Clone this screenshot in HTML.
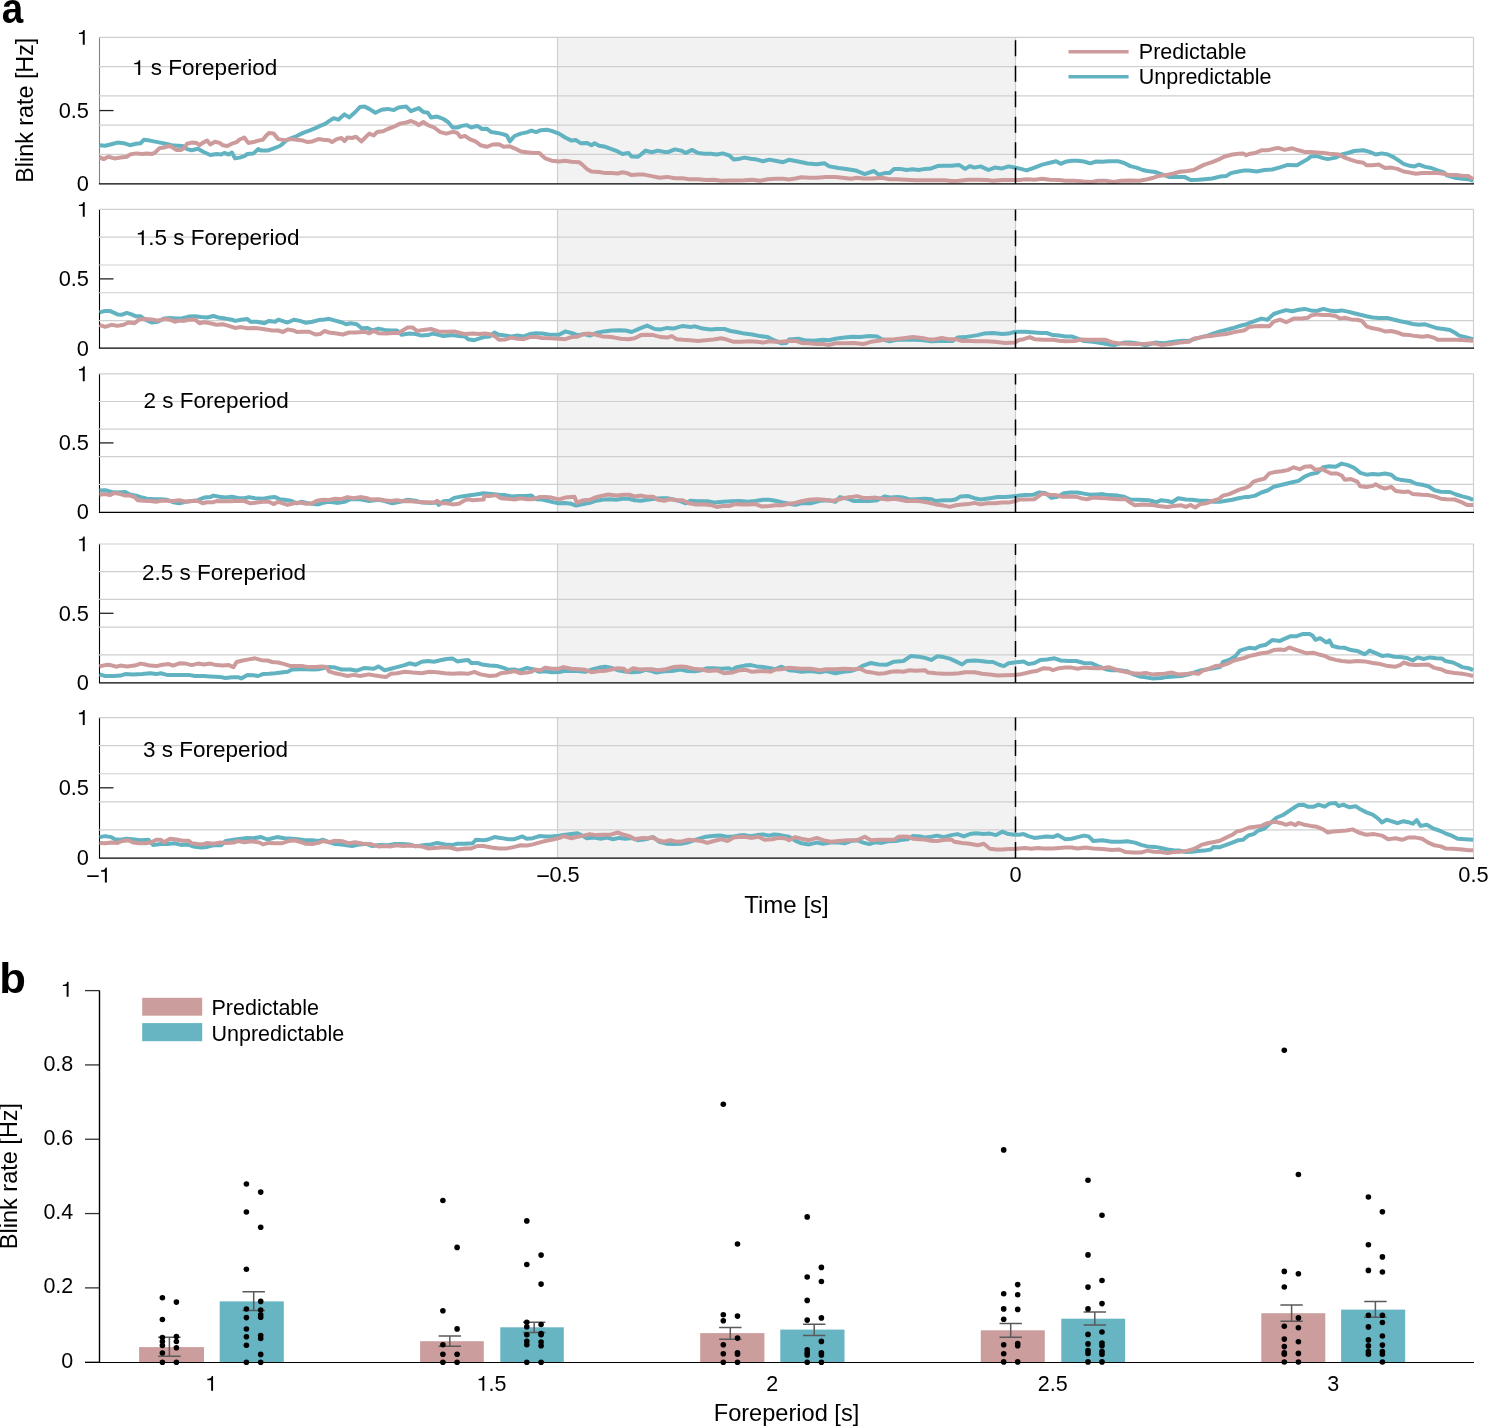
<!DOCTYPE html>
<html><head><meta charset="utf-8"><style>html,body{margin:0;padding:0;background:#fff;width:1488px;height:1426px;overflow:hidden}</style></head>
<body><svg width="1488" height="1426" viewBox="0 0 1488 1426" style="display:block;font-family:'Liberation Sans', sans-serif;will-change:transform"><rect width="1488" height="1426" fill="#fff"/><text x="1.7" y="23" font-size="42" font-weight="bold" transform="translate(2.6,0) scale(0.92,1) translate(-2.6,0)">a</text><text x="-0.7" y="992.7" font-size="42" font-weight="bold" transform="translate(2.8,0) scale(1.04,1) translate(-2.8,0)">b</text><rect x="557.5" y="37.43" width="458.0" height="146.26999999999998" fill="#f2f2f2"/><line x1="99.5" y1="37.43" x2="99.5" y2="183.7" stroke="#808080" stroke-width="1.1"/><line x1="98.5" y1="154.45" x2="1473.5" y2="154.45" stroke="#cfcfcf" stroke-width="1.2"/><line x1="98.5" y1="125.19" x2="1473.5" y2="125.19" stroke="#cfcfcf" stroke-width="1.2"/><line x1="98.5" y1="95.94" x2="1473.5" y2="95.94" stroke="#cfcfcf" stroke-width="1.2"/><line x1="98.5" y1="66.68" x2="1473.5" y2="66.68" stroke="#cfcfcf" stroke-width="1.2"/><line x1="98.5" y1="37.43" x2="1473.5" y2="37.43" stroke="#cfcfcf" stroke-width="1.2"/><line x1="557.5" y1="37.43" x2="557.5" y2="183.7" stroke="#cfcfcf" stroke-width="1.2"/><line x1="1015.5" y1="37.43" x2="1015.5" y2="183.7" stroke="#cfcfcf" stroke-width="1.2"/><line x1="1473.5" y1="37.43" x2="1473.5" y2="183.7" stroke="#cfcfcf" stroke-width="1.2"/><text x="132.10" y="74.90" font-size="22.5">  s Foreperiod</text><path d="M360 0L360 655L302 655C290 612 274 584 248 566C220 547 172 537 95 533L95 472L270 472L270 0Z" transform="translate(132.10,74.90) scale(0.02250,-0.02250)"/><polyline points="99.5,145.2 105.2,145.7 111.4,144.2 117.5,142.6 123.7,143.2 129.9,145.2 136.1,143.7 140.7,143.2 143.8,139.8 150.0,140.6 157.7,142.1 165.5,143.7 171.6,145.2 177.8,145.7 182.5,146.0 187.1,149.1 191.7,150.3 197.9,148.8 204.1,152.2 210.3,155.0 216.5,154.0 221.1,154.5 224.2,153.0 228.8,154.5 231.9,152.5 235.0,158.4 239.7,157.6 244.3,156.1 247.4,154.0 253.6,153.4 258.2,149.1 261.3,150.6 267.5,150.6 273.7,148.3 279.8,146.0 282.9,143.7 286.0,140.6 290.7,138.3 296.8,136.0 303.0,132.9 309.2,130.6 315.4,128.2 320.0,125.9 324.7,124.1 329.0,121.1 333.6,118.2 338.3,119.7 344.5,114.3 349.1,117.4 355.3,112.0 359.9,107.1 364.6,106.6 369.2,108.9 375.4,112.8 381.6,109.7 387.7,108.9 393.9,110.1 398.6,107.4 406.3,106.6 410.9,111.2 418.7,108.1 423.3,112.0 427.9,112.8 431.0,117.4 437.2,116.6 443.4,119.0 448.0,122.0 452.7,127.5 457.3,127.5 461.9,125.9 466.6,125.1 471.2,127.5 477.4,125.9 482.0,129.0 486.7,128.7 491.3,132.1 497.5,132.9 503.7,134.4 506.8,135.5 509.8,141.4 514.5,136.0 520.7,133.6 526.8,132.4 531.5,130.6 536.1,132.1 540.8,130.2 546.9,129.8 551.6,130.9 559.0,133.6 565.2,137.5 571.4,140.6 576.0,140.1 580.6,143.2 586.8,142.9 591.5,145.2 594.6,143.2 599.2,145.7 605.4,146.8 611.6,149.1 617.7,151.4 622.4,154.0 628.6,153.0 631.6,156.5 637.8,156.8 640.9,154.5 645.6,150.6 651.7,152.2 657.9,150.6 664.1,151.9 668.7,151.9 674.9,149.4 681.1,150.6 685.7,153.0 691.9,149.9 698.1,153.0 704.3,153.7 710.5,153.7 716.7,154.5 722.8,153.4 729.0,155.3 733.7,159.6 738.3,159.1 744.5,157.6 750.7,158.7 756.8,159.6 763.0,161.2 769.2,159.6 775.4,160.7 783.1,162.2 789.0,159.8 798.3,161.5 807.5,163.5 816.8,164.2 824.6,163.3 829.2,166.4 838.5,168.0 847.7,169.2 855.5,170.4 864.7,174.1 870.9,172.0 874.0,171.0 878.7,174.6 884.8,173.1 889.5,173.1 894.1,168.9 900.3,168.9 906.5,170.0 912.7,169.2 918.8,170.0 925.0,168.9 931.2,168.4 937.4,166.1 943.6,165.8 951.3,165.8 959.0,164.9 965.2,168.9 969.8,166.1 974.5,167.6 980.7,166.4 988.4,170.0 994.6,167.6 1002.3,168.4 1008.5,166.4 1013.1,167.3 1019.0,168.4 1026.7,170.4 1034.5,167.6 1042.2,164.6 1049.9,162.7 1056.1,161.2 1060.7,163.8 1065.4,161.8 1071.6,160.7 1077.7,160.7 1083.9,161.5 1090.1,163.3 1096.3,161.5 1102.5,161.8 1108.7,161.2 1117.9,161.2 1124.1,163.0 1130.3,166.1 1136.5,167.6 1142.7,170.0 1147.3,171.0 1155.0,172.0 1162.8,174.6 1168.9,176.9 1176.7,176.9 1184.4,176.9 1190.6,180.0 1198.3,179.7 1204.5,179.2 1212.2,178.5 1219.9,176.6 1226.1,176.1 1230.8,173.1 1238.5,171.5 1244.7,170.4 1249.0,170.6 1256.7,171.5 1264.5,170.0 1272.2,169.5 1279.9,167.3 1287.6,164.9 1296.9,165.3 1303.1,161.8 1307.7,159.1 1310.8,156.5 1317.0,156.1 1323.2,158.1 1327.8,159.1 1335.6,157.6 1341.7,154.5 1347.9,153.0 1354.1,151.0 1363.4,150.3 1369.6,151.9 1375.7,154.5 1381.9,153.4 1388.1,154.5 1394.3,157.6 1398.9,160.7 1403.6,163.8 1409.8,165.8 1414.4,166.4 1419.0,164.6 1425.2,166.9 1431.4,168.0 1437.6,170.4 1443.8,172.3 1446.8,175.4 1454.6,177.7 1462.3,178.8 1468.5,179.2 1473.1,180.8" fill="none" stroke="#62b3c1" stroke-width="4" stroke-linejoin="round" stroke-linecap="butt"/><polyline points="99.5,157.1 103.6,159.1 108.3,156.8 114.5,158.4 120.6,157.6 126.8,156.8 129.9,154.5 136.1,153.4 142.3,154.0 146.9,153.4 151.6,154.0 154.6,153.0 159.3,148.3 163.9,147.6 168.6,146.0 171.6,146.8 176.3,149.9 180.9,149.9 184.0,148.3 187.1,143.7 191.7,142.6 196.4,142.9 199.5,145.2 202.6,142.9 207.2,140.6 210.3,144.5 214.9,141.7 219.6,142.9 222.7,145.2 227.3,146.0 231.9,143.7 236.6,142.1 239.7,139.5 244.3,137.5 248.2,142.9 253.6,142.1 258.2,140.6 262.8,139.8 265.9,136.0 269.0,132.9 273.7,133.6 278.3,139.1 284.5,140.1 290.7,139.1 296.8,139.8 303.0,140.6 307.7,142.1 312.3,141.4 318.5,139.1 323.1,139.8 329.0,140.2 332.1,142.1 336.7,139.1 341.4,138.0 344.5,141.1 347.5,137.5 352.2,138.0 356.0,136.7 361.5,141.4 366.1,136.7 369.2,133.6 373.8,135.5 376.9,132.1 383.1,131.3 387.7,129.0 393.9,126.7 400.1,123.6 406.3,122.5 410.9,121.0 415.6,122.8 418.7,125.1 423.3,122.0 427.9,125.1 434.1,127.5 440.3,132.1 446.5,133.6 452.7,131.8 457.3,132.9 460.4,137.0 465.0,136.0 469.7,139.1 475.8,141.7 480.5,145.2 486.7,146.8 492.8,144.5 499.0,144.2 503.7,146.8 509.8,146.3 514.5,148.3 520.7,151.4 526.8,152.2 533.0,153.0 539.2,153.0 545.4,158.4 551.6,160.7 559.0,161.6 565.2,160.7 571.4,161.8 579.1,162.2 582.2,164.6 586.8,168.9 591.5,171.5 599.2,172.0 605.4,173.1 611.6,173.1 617.7,173.5 622.4,172.3 627.0,173.1 631.6,175.1 637.8,174.6 644.0,174.6 651.7,176.1 659.5,177.7 667.2,176.9 674.9,178.2 682.7,178.2 688.8,179.2 698.1,179.2 705.8,180.0 713.6,179.7 721.3,180.8 729.0,180.5 736.8,180.5 744.5,180.3 752.2,179.7 759.9,180.8 767.7,179.2 775.4,178.8 783.1,178.8 789.0,179.5 795.2,178.5 801.4,177.2 809.1,177.7 816.8,177.7 826.1,176.9 835.4,176.9 844.6,178.0 850.8,178.8 857.0,177.7 863.2,178.5 872.5,178.5 881.7,177.7 889.5,179.2 897.2,179.2 906.5,179.7 915.7,180.3 928.1,180.3 937.4,180.3 945.1,180.3 951.3,181.1 959.0,180.8 968.3,179.7 977.6,179.7 986.8,180.0 993.0,180.8 1002.3,180.0 1011.6,180.0 1019.0,179.9 1026.7,179.2 1034.5,179.7 1042.2,178.8 1049.9,179.7 1059.2,180.0 1065.4,180.8 1074.6,180.8 1083.9,181.6 1091.6,181.9 1097.8,180.8 1105.6,180.8 1113.3,181.9 1121.0,180.8 1130.3,180.5 1139.6,180.8 1147.3,179.2 1153.5,177.7 1158.1,176.1 1165.8,175.1 1173.6,173.5 1179.8,171.8 1187.5,171.0 1193.7,170.0 1199.8,166.9 1204.5,164.6 1212.2,162.2 1218.4,159.6 1224.6,156.5 1232.3,154.5 1238.5,153.7 1243.1,153.4 1246.2,155.3 1249.0,154.0 1255.2,153.0 1261.4,150.3 1267.5,150.3 1273.7,148.8 1278.4,147.9 1284.6,149.9 1292.3,148.3 1298.5,150.3 1304.6,151.9 1310.8,151.9 1317.0,152.5 1323.2,153.0 1329.4,153.7 1338.7,154.5 1344.8,157.6 1351.0,159.9 1357.2,161.8 1363.4,162.7 1366.5,165.3 1372.7,165.3 1378.8,164.6 1385.0,168.0 1391.2,167.6 1397.4,168.9 1403.6,171.5 1408.2,172.3 1415.9,173.8 1422.1,173.1 1428.3,173.1 1437.6,173.1 1443.8,173.8 1449.9,175.1 1456.1,175.1 1462.3,175.7 1468.5,176.1 1473.1,179.2" fill="none" stroke="#cd9b9b" stroke-width="4" stroke-linejoin="round" stroke-linecap="butt"/><line x1="1015.5" y1="183.7" x2="1015.5" y2="37.43" stroke="#000" stroke-width="1.5" stroke-dasharray="16 9.5"/><line x1="98.9" y1="183.88" x2="1474.0" y2="183.88" stroke="#000" stroke-width="1.3"/><line x1="99.5" y1="110.56" x2="113.5" y2="110.56" stroke="#222" stroke-width="1.3"/><path d="M360 0L360 655L302 655C290 612 274 584 248 566C220 547 172 537 95 533L95 472L270 472L270 0Z" transform="translate(76.88,44.73) scale(0.02180,-0.02267)"/><text x="58.70" y="117.86" font-size="21.8" transform="translate(0,117.86) scale(1,1.04) translate(0,-117.86)">0.5</text><text x="76.88" y="191.00" font-size="21.8" transform="translate(0,191.00) scale(1,1.04) translate(0,-191.00)">0</text><rect x="557.5" y="209.45" width="458.0" height="138.85000000000002" fill="#f2f2f2"/><line x1="99.5" y1="209.45" x2="99.5" y2="348.3" stroke="#000" stroke-width="1.1"/><line x1="98.5" y1="320.53" x2="1473.5" y2="320.53" stroke="#cfcfcf" stroke-width="1.2"/><line x1="98.5" y1="292.76" x2="1473.5" y2="292.76" stroke="#cfcfcf" stroke-width="1.2"/><line x1="98.5" y1="264.99" x2="1473.5" y2="264.99" stroke="#cfcfcf" stroke-width="1.2"/><line x1="98.5" y1="237.22" x2="1473.5" y2="237.22" stroke="#cfcfcf" stroke-width="1.2"/><line x1="98.5" y1="209.45" x2="1473.5" y2="209.45" stroke="#cfcfcf" stroke-width="1.2"/><line x1="557.5" y1="209.45" x2="557.5" y2="348.3" stroke="#cfcfcf" stroke-width="1.2"/><line x1="1015.5" y1="209.45" x2="1015.5" y2="348.3" stroke="#cfcfcf" stroke-width="1.2"/><line x1="1473.5" y1="209.45" x2="1473.5" y2="348.3" stroke="#cfcfcf" stroke-width="1.2"/><text x="135.70" y="245.10" font-size="22.5"> .5 s Foreperiod</text><path d="M360 0L360 655L302 655C290 612 274 584 248 566C220 547 172 537 95 533L95 472L270 472L270 0Z" transform="translate(135.70,245.10) scale(0.02250,-0.02250)"/><polyline points="99.5,312.4 105.2,310.9 109.8,310.9 117.5,314.4 122.2,314.7 126.8,312.9 131.5,314.4 136.1,316.3 140.7,316.3 145.4,319.7 151.6,322.5 157.7,321.7 163.9,318.6 170.1,318.1 176.3,318.6 182.5,318.3 188.7,316.6 194.8,316.3 201.0,317.0 207.2,317.5 213.4,316.0 219.6,317.8 225.7,318.6 231.9,319.7 235.0,320.9 241.2,319.7 247.4,319.1 250.5,321.7 256.7,321.7 264.4,323.2 269.0,320.9 275.2,321.7 278.3,319.7 284.5,321.7 287.6,322.5 293.8,319.7 299.9,320.9 306.1,322.9 312.3,321.7 318.5,320.1 324.7,319.4 329.0,318.8 335.2,320.6 341.4,322.2 346.0,324.3 350.6,323.2 356.8,324.3 361.5,328.3 367.6,327.9 372.3,330.5 378.5,328.6 384.6,329.9 390.8,330.5 397.0,330.5 401.6,334.8 409.4,333.6 415.6,334.1 421.7,335.6 427.9,335.1 432.6,333.6 438.7,334.8 443.4,336.1 452.7,335.1 458.8,336.1 465.0,336.4 468.1,339.2 474.3,340.2 478.9,338.7 483.6,337.1 489.8,336.4 494.4,332.5 499.0,334.8 505.2,335.6 511.4,336.4 517.6,335.6 523.8,336.4 529.9,334.1 536.1,333.3 542.3,333.6 548.5,334.5 559.0,334.8 565.2,331.4 571.4,333.0 577.5,335.1 583.7,334.1 589.9,335.6 596.1,333.0 603.8,331.4 611.6,330.5 619.3,330.2 625.5,330.5 631.6,332.0 639.4,328.6 647.1,325.6 654.8,329.0 661.0,329.4 667.2,327.9 673.4,328.6 682.7,325.9 690.4,327.1 695.0,326.3 702.8,328.6 710.5,329.4 716.7,329.0 724.4,329.0 730.6,331.0 736.8,332.0 744.5,333.6 752.2,334.5 759.9,336.1 767.7,337.1 773.9,340.2 781.6,343.3 786.2,342.9 789.0,339.5 798.3,338.7 804.5,340.2 813.7,340.7 823.0,339.8 829.2,340.2 835.4,338.7 844.6,337.6 852.4,336.7 860.1,337.1 869.4,336.1 877.1,336.4 881.7,339.2 889.5,341.3 897.2,339.8 906.5,339.8 915.7,339.8 923.5,340.2 931.2,341.3 938.9,341.0 946.7,341.0 952.8,341.0 957.5,337.6 965.2,337.1 971.4,336.1 977.6,335.1 983.8,333.6 993.0,333.0 1002.3,334.1 1008.5,333.6 1014.7,332.0 1019.0,331.7 1025.2,331.7 1034.5,332.5 1040.6,333.0 1046.8,333.0 1053.0,335.1 1059.2,335.6 1065.4,336.4 1071.6,336.4 1077.7,338.7 1083.9,341.0 1093.2,341.8 1102.5,343.3 1108.7,344.4 1114.8,344.9 1124.1,342.6 1130.3,342.6 1139.6,343.8 1145.7,345.3 1155.0,342.6 1164.3,343.3 1173.6,341.8 1182.8,340.7 1189.0,341.0 1195.2,338.7 1201.4,337.1 1207.6,335.6 1213.8,333.3 1219.9,331.4 1226.1,329.9 1232.3,328.3 1238.5,326.3 1244.7,324.8 1249.0,323.2 1255.2,320.9 1261.4,318.6 1267.5,319.7 1273.7,314.0 1279.9,311.9 1286.1,310.1 1292.3,311.3 1298.5,309.8 1304.6,308.9 1310.8,310.4 1317.0,310.9 1323.2,308.9 1329.4,310.4 1335.6,311.3 1341.7,310.4 1347.9,311.6 1354.1,313.2 1360.3,314.7 1366.5,316.3 1372.7,317.5 1378.8,318.1 1388.1,318.1 1394.3,319.7 1400.5,321.2 1406.7,322.5 1412.8,324.0 1419.0,324.8 1425.2,324.3 1431.4,326.3 1437.6,328.3 1443.8,329.0 1449.9,329.9 1454.6,332.5 1459.2,335.6 1465.4,337.1 1473.1,339.2" fill="none" stroke="#62b3c1" stroke-width="4" stroke-linejoin="round" stroke-linecap="butt"/><polyline points="99.5,324.8 105.2,326.8 111.4,324.8 117.5,325.9 123.7,324.8 128.4,322.5 134.6,323.2 139.2,319.4 145.4,319.1 151.6,319.4 157.7,320.6 163.9,319.1 170.1,319.7 174.7,321.7 179.4,320.6 184.0,320.9 188.7,319.7 194.8,319.4 199.5,323.2 204.1,322.2 210.3,323.2 216.5,324.8 222.7,324.3 228.8,325.9 235.0,327.9 241.2,327.1 247.4,328.3 253.6,327.9 259.8,328.6 265.9,329.4 272.1,330.5 278.3,330.5 282.9,332.0 287.6,329.4 293.8,330.5 296.8,332.0 303.0,331.7 309.2,331.7 315.4,334.5 320.0,334.1 324.7,331.0 329.0,332.5 335.2,333.3 342.9,334.5 349.1,332.5 356.8,332.5 364.6,331.7 369.2,333.3 373.8,331.0 378.5,333.3 386.2,333.6 392.4,333.0 398.6,333.0 403.2,330.2 407.8,327.4 412.5,327.4 417.1,331.0 423.3,329.9 431.0,329.0 438.7,331.4 446.5,331.7 454.2,331.4 460.4,333.0 465.0,334.1 472.8,333.6 478.9,334.1 485.1,333.6 491.3,334.5 495.9,337.1 499.0,339.8 505.2,339.5 511.4,337.6 517.6,338.7 523.8,339.2 529.9,337.1 536.1,337.1 542.3,337.9 550.0,338.2 559.0,338.7 565.2,339.2 571.4,337.1 577.5,336.7 583.7,334.1 589.9,333.6 596.1,334.8 602.3,336.4 608.5,336.7 614.6,337.6 620.8,338.7 628.6,339.2 634.7,338.2 640.9,335.1 647.1,334.8 653.3,335.1 661.0,337.1 667.2,337.6 671.8,336.1 676.5,339.2 682.7,339.8 690.4,340.2 698.1,341.0 705.8,340.2 713.6,339.5 721.3,338.2 727.5,339.8 733.7,341.8 741.4,341.8 749.1,341.3 756.8,341.8 763.0,342.6 769.2,341.3 775.4,341.8 781.6,341.8 789.0,341.0 795.2,340.7 801.4,342.9 809.1,343.3 816.8,344.1 823.0,344.1 829.2,344.9 835.4,343.3 844.6,343.3 853.9,342.9 863.2,344.1 870.9,341.8 878.7,340.7 884.8,339.5 894.1,339.2 903.4,338.2 912.7,337.1 921.9,337.9 928.1,339.2 934.3,339.5 942.0,337.9 948.2,339.2 955.9,339.2 962.1,341.0 969.8,341.0 977.6,341.3 986.8,341.3 994.6,341.8 1005.4,342.9 1014.7,342.6 1019.0,340.0 1023.6,339.2 1029.8,337.1 1034.5,339.2 1043.7,339.8 1053.0,339.8 1059.2,340.7 1065.4,341.3 1074.6,341.0 1080.8,339.5 1088.6,339.8 1096.3,339.8 1105.6,339.8 1111.7,342.2 1117.9,343.3 1127.2,343.8 1136.5,344.1 1145.7,343.8 1153.5,343.3 1161.2,344.9 1170.5,344.1 1179.8,342.6 1189.0,341.8 1193.7,338.7 1199.8,337.6 1204.5,336.4 1210.7,336.1 1216.8,335.1 1226.1,334.1 1232.3,332.5 1238.5,331.4 1244.7,330.2 1249.0,327.1 1255.2,326.3 1261.4,325.9 1269.1,326.3 1273.7,321.7 1279.9,319.7 1286.1,322.2 1293.8,318.6 1301.6,318.6 1307.7,317.8 1310.8,315.5 1317.0,314.4 1323.2,315.0 1329.4,315.0 1335.6,316.0 1340.2,318.6 1344.8,317.8 1351.0,319.4 1357.2,319.7 1361.8,320.9 1366.5,326.3 1372.7,328.3 1378.8,329.4 1385.0,331.4 1391.2,331.0 1397.4,332.5 1403.6,334.8 1409.8,335.1 1415.9,336.1 1422.1,336.7 1428.3,336.1 1434.5,337.9 1437.6,339.8 1446.8,339.8 1456.1,339.8 1465.4,340.2 1473.1,340.7" fill="none" stroke="#cd9b9b" stroke-width="4" stroke-linejoin="round" stroke-linecap="butt"/><line x1="1015.5" y1="348.3" x2="1015.5" y2="209.45" stroke="#000" stroke-width="1.5" stroke-dasharray="16 9.5"/><line x1="98.9" y1="348.1" x2="1474.0" y2="348.1" stroke="#000" stroke-width="1.3"/><line x1="99.5" y1="278.88" x2="113.5" y2="278.88" stroke="#222" stroke-width="1.3"/><path d="M360 0L360 655L302 655C290 612 274 584 248 566C220 547 172 537 95 533L95 472L270 472L270 0Z" transform="translate(76.88,216.75) scale(0.02180,-0.02267)"/><text x="58.70" y="286.18" font-size="21.8" transform="translate(0,286.18) scale(1,1.04) translate(0,-286.18)">0.5</text><text x="76.88" y="355.60" font-size="21.8" transform="translate(0,355.60) scale(1,1.04) translate(0,-355.60)">0</text><rect x="557.5" y="373.9" width="458.0" height="138.0" fill="#f2f2f2"/><line x1="99.5" y1="373.9" x2="99.5" y2="511.9" stroke="#000" stroke-width="1.1"/><line x1="98.5" y1="484.30" x2="1473.5" y2="484.30" stroke="#cfcfcf" stroke-width="1.2"/><line x1="98.5" y1="456.70" x2="1473.5" y2="456.70" stroke="#cfcfcf" stroke-width="1.2"/><line x1="98.5" y1="429.10" x2="1473.5" y2="429.10" stroke="#cfcfcf" stroke-width="1.2"/><line x1="98.5" y1="401.50" x2="1473.5" y2="401.50" stroke="#cfcfcf" stroke-width="1.2"/><line x1="98.5" y1="373.90" x2="1473.5" y2="373.90" stroke="#cfcfcf" stroke-width="1.2"/><line x1="557.5" y1="373.9" x2="557.5" y2="511.9" stroke="#cfcfcf" stroke-width="1.2"/><line x1="1015.5" y1="373.9" x2="1015.5" y2="511.9" stroke="#cfcfcf" stroke-width="1.2"/><line x1="1473.5" y1="373.9" x2="1473.5" y2="511.9" stroke="#cfcfcf" stroke-width="1.2"/><text x="143.60" y="408.00" font-size="22.5">2 s Foreperiod</text><polyline points="99.5,490.5 105.2,490.2 111.4,492.0 117.5,492.5 125.3,492.0 129.9,494.5 136.1,495.6 140.7,497.1 146.9,498.7 154.6,499.2 160.8,499.2 167.0,499.8 173.2,502.2 179.4,503.3 185.6,501.8 191.7,501.0 197.9,500.2 204.1,497.6 210.3,497.1 213.4,495.6 219.6,496.7 225.7,497.6 231.9,496.7 238.1,497.9 244.3,498.2 248.9,497.1 255.1,498.2 262.8,498.7 269.0,497.6 275.2,497.1 279.8,499.2 284.5,499.8 290.7,500.7 296.8,503.3 301.5,501.8 307.7,503.3 313.9,504.1 318.5,504.4 323.1,502.9 329.0,501.8 338.3,502.9 344.5,501.8 350.6,499.2 359.9,499.2 369.2,501.0 378.5,499.8 384.6,501.0 392.4,503.3 400.1,501.8 407.8,499.8 415.6,500.7 421.7,502.6 431.0,502.9 437.2,502.6 438.7,504.9 443.4,501.3 449.6,500.7 454.2,497.9 461.9,496.4 468.1,495.6 475.8,494.5 483.6,493.3 491.3,494.1 499.0,494.8 505.2,495.1 511.4,496.4 519.1,496.1 525.3,496.1 531.5,495.6 536.1,499.2 542.3,499.5 548.5,501.0 554.7,502.6 559.0,503.3 565.2,502.9 571.4,503.8 576.0,505.6 582.2,504.4 589.9,502.9 596.1,500.7 603.8,499.5 610.0,499.2 616.2,499.8 622.4,498.7 628.6,498.7 634.7,500.2 640.9,500.7 647.1,499.8 654.8,498.7 661.0,498.2 667.2,498.2 673.4,499.5 679.6,501.0 685.7,503.3 690.4,500.7 698.1,501.3 707.4,501.3 715.1,502.6 722.8,501.8 732.1,501.3 739.8,501.0 747.6,501.8 755.3,501.0 763.0,499.8 769.2,499.8 775.4,500.7 781.6,502.2 789.0,503.7 795.2,504.9 801.4,503.3 810.6,503.3 819.9,500.7 829.2,500.2 835.4,501.8 840.0,497.1 847.7,498.7 853.9,501.0 860.1,501.0 869.4,501.0 877.1,500.2 884.8,496.4 891.0,497.6 897.2,497.1 903.4,497.6 909.6,499.5 915.7,499.2 925.0,498.7 931.2,499.2 935.8,501.0 943.6,500.2 951.3,500.2 955.9,499.2 960.6,496.4 968.3,496.1 974.5,498.2 980.7,499.5 989.9,498.2 997.7,497.1 1005.4,497.1 1011.6,496.4 1019.0,495.6 1025.2,495.1 1032.9,494.8 1039.1,492.5 1045.3,493.0 1051.5,497.9 1057.6,496.7 1063.8,493.3 1070.0,492.5 1077.7,492.5 1083.9,493.6 1090.1,494.8 1096.3,494.5 1102.5,494.1 1108.7,495.1 1117.9,495.6 1124.1,496.7 1130.3,499.5 1139.6,499.8 1148.8,500.2 1156.6,502.2 1161.2,500.2 1167.4,501.0 1172.0,502.2 1178.2,498.2 1185.9,499.5 1192.1,499.8 1199.8,500.7 1207.6,500.7 1213.8,501.8 1219.9,501.8 1226.1,500.7 1232.3,499.8 1238.5,498.2 1244.7,497.1 1249.0,496.9 1255.2,495.6 1261.4,492.5 1267.5,490.5 1273.7,486.8 1279.9,485.2 1286.1,483.7 1292.3,482.2 1298.5,480.9 1304.6,476.6 1310.8,474.0 1317.0,472.9 1323.2,467.3 1329.4,466.2 1335.6,466.7 1341.7,463.6 1347.9,465.1 1354.1,467.8 1360.3,472.9 1366.5,474.7 1372.7,474.0 1378.8,474.4 1385.0,473.5 1391.2,474.7 1395.8,478.6 1402.0,480.1 1409.8,480.9 1415.9,483.7 1422.1,484.8 1428.3,486.3 1434.5,490.2 1440.7,491.7 1449.9,492.0 1456.1,494.5 1462.3,496.4 1468.5,497.9 1473.1,499.8" fill="none" stroke="#62b3c1" stroke-width="4" stroke-linejoin="round" stroke-linecap="butt"/><polyline points="99.5,494.8 105.2,494.1 109.8,495.1 114.5,493.0 120.6,494.1 125.3,495.6 129.9,495.6 134.6,497.1 137.6,500.2 143.8,500.7 150.0,501.0 156.2,501.8 160.8,500.7 167.0,500.7 173.2,501.0 179.4,500.2 185.6,501.8 191.7,501.0 197.9,501.0 202.6,503.3 207.2,502.2 213.4,502.2 216.5,501.0 222.7,501.3 230.4,501.3 238.1,500.7 244.3,501.0 250.5,503.3 256.7,502.6 262.8,501.8 269.0,501.8 273.7,504.1 278.3,501.8 284.5,503.8 287.6,504.9 293.8,503.3 299.9,502.6 306.1,503.8 312.3,503.3 316.9,500.7 323.1,499.8 329.0,500.0 335.2,498.7 341.4,499.2 347.5,497.1 353.7,498.2 359.9,497.1 366.1,497.9 370.7,499.5 378.5,499.2 384.6,500.2 390.8,501.0 397.0,500.2 403.2,501.3 409.4,501.0 415.6,501.8 424.8,502.2 434.1,502.6 437.2,500.7 440.3,503.3 446.5,503.3 452.7,504.4 458.8,503.8 463.5,501.0 468.1,499.2 472.8,500.2 478.9,499.8 483.6,499.5 484.3,496.1 489.8,496.1 495.9,495.1 500.6,498.2 506.8,498.7 514.5,499.5 520.7,498.2 526.8,499.2 533.0,499.2 539.2,497.1 545.4,497.1 551.6,497.6 559.0,499.5 565.2,497.6 574.5,496.7 576.8,502.6 583.7,500.2 589.9,499.8 596.1,497.1 602.3,495.6 608.5,494.5 616.2,495.6 623.9,494.8 630.1,494.8 634.7,496.4 640.9,495.6 647.1,496.7 653.3,496.7 657.9,499.8 664.1,500.7 670.3,499.2 676.5,500.2 682.7,500.2 688.8,503.3 695.0,504.4 704.3,504.4 710.5,504.9 716.7,506.9 722.8,506.0 729.0,506.0 735.2,504.1 741.4,504.4 749.1,504.4 755.3,504.1 761.5,506.4 769.2,506.0 775.4,505.3 781.6,505.3 789.0,503.8 795.2,502.9 801.4,501.3 809.1,499.8 816.8,499.2 824.6,499.8 832.3,501.0 838.5,499.5 844.6,497.9 850.8,497.1 857.0,496.1 863.2,497.9 869.4,497.9 875.6,497.6 881.7,498.7 887.9,499.5 894.1,498.7 900.3,499.8 906.5,501.0 912.7,500.7 920.4,501.3 928.1,502.6 935.8,504.4 943.6,505.6 949.8,506.9 955.9,505.3 962.1,504.4 968.3,504.1 974.5,502.9 980.7,504.4 986.8,503.3 994.6,503.3 1002.3,502.6 1008.5,502.6 1014.7,501.3 1019.0,499.6 1025.2,499.5 1034.5,499.2 1042.2,493.6 1049.9,494.8 1056.1,495.1 1062.3,496.7 1070.0,496.4 1076.2,496.7 1080.8,498.2 1087.0,499.2 1093.2,497.6 1099.4,497.9 1105.6,498.2 1111.7,498.7 1117.9,499.2 1125.7,499.2 1130.3,502.6 1134.9,505.3 1142.7,504.4 1151.9,504.9 1158.1,506.0 1167.4,506.9 1173.6,506.0 1181.3,505.3 1185.9,506.9 1190.6,504.9 1195.2,507.5 1199.8,504.4 1206.0,503.3 1212.2,501.0 1218.4,499.2 1223.0,495.6 1229.2,494.1 1235.4,491.4 1240.0,489.4 1244.7,488.3 1249.0,486.3 1253.6,481.7 1259.8,479.7 1264.5,478.6 1269.1,473.5 1275.3,471.9 1281.5,471.3 1287.6,470.1 1293.8,467.3 1300.0,469.3 1304.6,466.7 1310.8,466.2 1315.5,469.8 1321.6,468.9 1326.3,471.3 1330.9,473.5 1337.1,473.5 1341.7,475.5 1344.8,479.7 1351.0,479.1 1357.2,481.7 1360.3,486.3 1366.5,487.1 1372.7,485.9 1375.7,484.3 1380.4,487.1 1385.0,488.6 1391.2,486.8 1395.8,491.0 1403.6,492.0 1408.2,491.4 1412.8,494.1 1422.1,494.8 1428.3,495.1 1434.5,496.4 1440.7,498.7 1446.8,499.2 1454.6,499.5 1460.8,501.8 1466.9,504.9 1473.1,504.9" fill="none" stroke="#cd9b9b" stroke-width="4" stroke-linejoin="round" stroke-linecap="butt"/><line x1="1015.5" y1="511.9" x2="1015.5" y2="373.9" stroke="#000" stroke-width="1.5" stroke-dasharray="16 9.5"/><line x1="98.9" y1="512.3" x2="1474.0" y2="512.3" stroke="#000" stroke-width="1.3"/><line x1="99.5" y1="442.90" x2="113.5" y2="442.90" stroke="#222" stroke-width="1.3"/><path d="M360 0L360 655L302 655C290 612 274 584 248 566C220 547 172 537 95 533L95 472L270 472L270 0Z" transform="translate(76.88,381.20) scale(0.02180,-0.02267)"/><text x="58.70" y="450.20" font-size="21.8" transform="translate(0,450.20) scale(1,1.04) translate(0,-450.20)">0.5</text><text x="76.88" y="519.20" font-size="21.8" transform="translate(0,519.20) scale(1,1.04) translate(0,-519.20)">0</text><rect x="557.5" y="544.0" width="458.0" height="138.60000000000002" fill="#f2f2f2"/><line x1="99.5" y1="544.0" x2="99.5" y2="682.6" stroke="#000" stroke-width="1.1"/><line x1="98.5" y1="654.88" x2="1473.5" y2="654.88" stroke="#cfcfcf" stroke-width="1.2"/><line x1="98.5" y1="627.16" x2="1473.5" y2="627.16" stroke="#cfcfcf" stroke-width="1.2"/><line x1="98.5" y1="599.44" x2="1473.5" y2="599.44" stroke="#cfcfcf" stroke-width="1.2"/><line x1="98.5" y1="571.72" x2="1473.5" y2="571.72" stroke="#cfcfcf" stroke-width="1.2"/><line x1="98.5" y1="544.00" x2="1473.5" y2="544.00" stroke="#cfcfcf" stroke-width="1.2"/><line x1="557.5" y1="544.0" x2="557.5" y2="682.6" stroke="#cfcfcf" stroke-width="1.2"/><line x1="1015.5" y1="544.0" x2="1015.5" y2="682.6" stroke="#cfcfcf" stroke-width="1.2"/><line x1="1473.5" y1="544.0" x2="1473.5" y2="682.6" stroke="#cfcfcf" stroke-width="1.2"/><text x="142.10" y="579.70" font-size="22.5">2.5 s Foreperiod</text><polyline points="99.5,674.4 105.2,676.0 114.5,676.0 120.6,675.6 125.3,674.1 133.0,674.4 142.3,674.1 150.0,673.3 156.2,674.1 160.8,673.3 167.0,674.9 176.3,674.9 188.7,674.9 194.8,676.0 204.1,676.0 210.3,676.4 219.6,676.9 225.7,678.0 231.9,677.2 238.1,677.2 241.2,678.4 247.4,674.9 253.6,675.3 258.2,676.0 262.8,674.1 269.0,673.8 275.2,673.3 281.4,672.6 287.6,671.8 292.2,669.5 299.9,669.2 306.1,669.2 312.3,669.5 318.5,669.2 324.7,667.9 329.0,667.1 335.2,667.6 341.4,669.5 350.6,669.5 356.8,670.7 364.6,667.9 373.8,668.7 378.5,666.4 384.6,670.2 390.8,668.7 397.0,667.1 404.7,665.1 409.4,663.3 415.6,664.8 421.7,661.7 427.9,661.0 434.1,661.7 440.3,660.2 446.5,659.0 452.7,658.6 457.3,661.4 463.5,660.5 468.1,659.9 471.2,663.0 477.4,663.0 483.6,664.8 489.8,665.6 497.5,666.1 503.7,667.9 508.3,669.8 514.5,669.5 519.1,670.7 526.8,667.9 533.0,669.2 539.2,671.8 545.4,671.3 551.6,672.2 559.0,672.0 565.2,670.7 571.4,671.0 577.5,671.0 585.3,671.8 593.0,669.2 599.2,667.6 605.4,666.7 611.6,667.9 617.7,670.2 623.9,671.3 631.6,672.2 639.4,671.8 645.6,669.8 651.7,671.0 656.4,672.6 664.1,671.3 671.8,671.0 681.1,669.5 687.3,671.0 695.0,671.3 701.2,670.2 707.4,668.2 713.6,668.2 721.3,668.7 729.0,668.2 732.1,669.8 736.8,667.1 744.5,665.6 750.7,665.1 756.8,666.4 763.0,667.1 769.2,667.9 775.4,669.2 781.6,666.7 789.0,670.2 795.2,670.7 801.4,671.8 810.6,671.0 819.9,672.2 826.1,671.0 835.4,673.3 843.1,671.8 850.8,671.0 857.0,669.2 863.2,665.6 870.9,663.0 878.7,664.5 886.4,664.8 894.1,661.7 903.4,661.0 911.1,655.9 918.8,656.8 925.0,657.9 931.2,659.9 937.4,656.3 943.6,657.1 949.8,658.6 955.9,661.4 962.1,664.5 966.8,661.0 974.5,660.5 980.7,661.0 986.8,661.7 993.0,662.0 999.2,664.8 1003.9,666.1 1008.5,663.3 1014.7,662.5 1019.0,661.9 1023.6,661.4 1028.3,664.1 1034.5,663.0 1040.6,659.9 1046.8,659.4 1054.6,658.3 1060.7,660.5 1068.5,661.0 1076.2,661.0 1083.9,663.0 1091.6,663.3 1097.8,666.1 1105.6,669.2 1111.7,670.2 1119.5,670.2 1127.2,671.3 1133.4,674.4 1139.6,676.4 1145.7,677.2 1151.9,678.4 1161.2,678.0 1167.4,676.9 1173.6,676.4 1181.3,676.0 1189.0,674.4 1195.2,672.2 1201.4,670.2 1207.6,669.2 1213.8,668.2 1219.9,667.1 1223.0,662.0 1229.2,659.9 1235.4,656.3 1240.0,650.6 1244.7,649.1 1249.0,647.8 1255.2,648.6 1259.8,646.0 1266.0,644.7 1272.2,640.1 1279.9,640.9 1286.1,638.2 1290.7,636.2 1296.9,636.2 1303.1,633.9 1309.3,633.9 1312.4,635.5 1315.5,639.8 1320.1,638.2 1326.3,642.4 1329.4,640.4 1332.5,646.0 1338.7,647.5 1344.8,647.8 1351.0,650.1 1357.2,650.9 1364.9,654.3 1369.6,650.6 1375.7,653.2 1381.9,655.9 1388.1,655.2 1394.3,656.8 1400.5,657.1 1406.7,657.9 1412.8,660.5 1417.5,657.4 1423.7,659.0 1429.8,657.4 1436.0,658.3 1442.2,658.6 1445.3,661.0 1453.0,662.5 1457.7,664.8 1462.3,667.1 1468.5,668.2 1473.1,670.2" fill="none" stroke="#62b3c1" stroke-width="4" stroke-linejoin="round" stroke-linecap="butt"/><polyline points="99.5,666.4 105.2,665.1 109.8,664.8 116.0,666.7 120.6,665.6 126.8,666.4 134.6,665.6 140.7,663.6 145.4,664.5 150.0,665.6 156.2,666.1 162.4,664.8 168.6,664.1 173.2,665.6 179.4,663.3 185.6,663.6 191.7,665.1 197.9,663.6 204.1,664.5 210.3,663.6 216.5,665.1 222.7,665.6 228.8,665.1 233.5,667.1 236.6,662.0 242.8,660.5 248.9,659.4 255.1,658.3 261.3,660.2 267.5,660.5 272.1,662.0 278.3,662.5 284.5,664.1 290.7,666.1 296.8,666.1 303.0,666.1 309.2,667.1 315.4,667.1 321.6,666.4 326.2,667.1 329.0,671.4 335.2,673.3 342.9,674.9 347.5,676.0 353.7,674.9 359.9,676.0 369.2,674.4 375.4,675.6 381.6,676.4 386.2,676.9 390.8,673.8 397.0,673.3 404.7,671.8 412.5,672.6 421.7,673.3 429.5,671.8 437.2,672.2 444.9,673.3 452.7,673.8 460.4,673.3 468.1,673.8 474.3,671.8 480.5,674.4 489.8,676.0 495.9,675.6 500.6,673.3 506.8,672.6 514.5,671.0 520.7,673.3 526.8,672.6 531.5,671.8 534.6,669.5 540.8,670.2 545.4,667.6 551.6,668.7 559.0,668.7 563.6,667.1 571.4,668.7 579.1,669.2 585.3,669.8 591.5,672.2 597.6,671.3 605.4,670.7 611.6,669.5 617.7,668.2 623.9,668.7 627.0,671.8 633.2,668.2 639.4,669.5 645.6,669.2 651.7,669.2 657.9,670.2 665.7,669.2 673.4,667.1 681.1,666.4 687.3,667.1 693.5,668.7 701.2,669.5 708.9,671.0 716.7,670.2 724.4,673.3 732.1,672.6 739.8,670.2 746.0,669.8 752.2,671.8 758.4,671.3 764.6,671.0 770.8,671.8 775.4,669.5 781.6,669.2 789.0,667.8 795.2,668.2 801.4,668.7 810.6,668.7 819.9,670.2 826.1,669.2 835.4,669.2 844.6,668.7 853.9,669.2 860.1,668.7 866.3,671.8 872.5,672.6 878.7,673.8 884.8,673.3 891.0,671.8 897.2,671.3 903.4,671.8 909.6,670.2 915.7,670.7 925.0,670.2 928.1,672.6 935.8,673.3 943.6,673.8 952.8,673.8 959.0,673.3 965.2,672.2 974.5,672.2 982.2,673.8 989.9,674.4 997.7,675.6 1005.4,675.3 1013.1,674.9 1019.0,674.6 1025.2,673.3 1031.4,671.8 1037.5,670.7 1043.7,668.2 1049.9,668.7 1053.0,670.2 1059.2,668.2 1065.4,667.6 1071.6,667.6 1077.7,668.7 1083.9,667.6 1090.1,667.9 1096.3,668.2 1102.5,668.2 1108.7,667.1 1114.8,669.2 1121.0,671.0 1127.2,672.2 1133.4,673.3 1139.6,673.8 1145.7,672.9 1151.9,674.4 1158.1,674.1 1164.3,673.8 1172.0,672.6 1178.2,674.4 1185.9,674.1 1192.1,672.9 1198.3,673.8 1202.9,670.7 1209.1,668.7 1215.3,666.1 1221.5,665.6 1227.7,663.6 1233.9,660.5 1240.0,659.0 1244.7,657.9 1249.0,656.1 1255.2,654.8 1261.4,653.2 1267.5,652.5 1273.7,650.1 1279.9,649.4 1284.6,650.1 1289.2,647.5 1295.4,649.7 1301.6,651.7 1306.2,653.2 1313.9,652.8 1320.1,654.8 1324.7,655.9 1329.4,658.3 1335.6,659.9 1341.7,661.0 1349.5,661.7 1357.2,661.0 1364.9,661.4 1372.7,663.0 1380.4,664.1 1388.1,666.1 1395.8,666.7 1400.5,664.8 1403.6,662.5 1409.8,664.5 1415.9,665.1 1422.1,664.8 1428.3,664.5 1434.5,667.9 1440.7,669.2 1446.8,671.8 1454.6,672.9 1462.3,673.8 1468.5,674.9 1473.1,676.0" fill="none" stroke="#cd9b9b" stroke-width="4" stroke-linejoin="round" stroke-linecap="butt"/><line x1="1015.5" y1="682.6" x2="1015.5" y2="544.0" stroke="#000" stroke-width="1.5" stroke-dasharray="16 9.5"/><line x1="98.9" y1="682.85" x2="1474.0" y2="682.85" stroke="#000" stroke-width="1.3"/><line x1="99.5" y1="613.30" x2="113.5" y2="613.30" stroke="#222" stroke-width="1.3"/><path d="M360 0L360 655L302 655C290 612 274 584 248 566C220 547 172 537 95 533L95 472L270 472L270 0Z" transform="translate(76.88,551.30) scale(0.02180,-0.02267)"/><text x="58.70" y="620.60" font-size="21.8" transform="translate(0,620.60) scale(1,1.04) translate(0,-620.60)">0.5</text><text x="76.88" y="689.90" font-size="21.8" transform="translate(0,689.90) scale(1,1.04) translate(0,-689.90)">0</text><rect x="557.5" y="717.6" width="458.0" height="140.39999999999998" fill="#f2f2f2"/><line x1="99.5" y1="717.6" x2="99.5" y2="858.0" stroke="#000" stroke-width="1.1"/><line x1="98.5" y1="829.92" x2="1473.5" y2="829.92" stroke="#cfcfcf" stroke-width="1.2"/><line x1="98.5" y1="801.84" x2="1473.5" y2="801.84" stroke="#cfcfcf" stroke-width="1.2"/><line x1="98.5" y1="773.76" x2="1473.5" y2="773.76" stroke="#cfcfcf" stroke-width="1.2"/><line x1="98.5" y1="745.68" x2="1473.5" y2="745.68" stroke="#cfcfcf" stroke-width="1.2"/><line x1="98.5" y1="717.60" x2="1473.5" y2="717.60" stroke="#cfcfcf" stroke-width="1.2"/><line x1="557.5" y1="717.6" x2="557.5" y2="858.0" stroke="#cfcfcf" stroke-width="1.2"/><line x1="1015.5" y1="717.6" x2="1015.5" y2="858.0" stroke="#cfcfcf" stroke-width="1.2"/><line x1="1473.5" y1="717.6" x2="1473.5" y2="858.0" stroke="#cfcfcf" stroke-width="1.2"/><text x="143.00" y="756.80" font-size="22.5">3 s Foreperiod</text><polyline points="99.5,837.1 105.2,836.1 111.4,837.1 114.5,839.2 120.6,839.8 126.8,838.7 134.6,839.5 140.7,840.2 148.5,839.8 153.1,844.9 160.8,844.1 167.0,844.1 174.7,843.3 180.9,844.9 187.1,844.4 193.3,846.4 201.0,847.5 207.2,846.9 213.4,845.3 221.1,845.3 225.7,841.0 233.5,839.8 241.2,838.7 247.4,837.9 253.6,838.2 261.3,837.1 267.5,839.5 276.8,837.1 284.5,838.2 292.2,838.7 298.4,839.2 304.6,840.2 312.3,840.2 318.5,841.0 323.1,839.8 329.0,842.0 335.2,844.1 341.4,844.4 352.2,846.0 359.9,844.4 366.1,843.8 372.3,846.0 380.0,844.9 387.7,845.3 393.9,844.1 401.6,844.1 409.4,844.4 415.6,846.4 424.8,844.9 431.0,844.4 437.2,842.9 444.9,844.4 452.7,844.9 457.3,843.8 465.0,843.8 472.8,843.3 475.8,839.8 483.6,840.2 488.2,839.5 494.4,837.1 500.6,837.9 508.3,839.2 514.5,839.2 522.2,836.4 526.8,838.7 533.0,838.2 539.2,836.1 545.4,836.4 551.6,836.4 559.0,835.8 565.2,834.8 571.4,834.1 577.5,833.3 582.2,835.6 586.8,838.2 594.6,837.6 600.7,838.7 606.9,837.6 613.1,839.2 619.3,837.9 625.5,838.7 631.6,837.9 637.8,840.2 645.6,839.2 653.3,837.1 659.5,841.8 667.2,843.8 673.4,844.1 681.1,843.8 687.3,842.6 695.0,839.8 704.3,837.1 712.0,836.1 719.8,835.6 725.9,836.4 732.1,836.7 738.3,835.6 744.5,835.1 750.7,836.1 756.8,835.1 763.0,834.5 769.2,835.6 773.9,834.5 780.0,835.1 789.0,836.6 795.2,840.7 801.4,843.3 809.1,844.4 816.8,842.6 823.0,843.8 830.7,842.6 838.5,842.6 844.6,843.3 850.8,841.0 857.0,840.2 863.2,842.6 869.4,844.1 875.6,842.2 881.7,842.9 887.9,841.3 895.7,841.0 901.8,839.8 908.0,839.2 912.7,836.1 920.4,836.4 925.0,837.6 931.2,836.7 937.4,835.6 943.6,837.1 951.3,835.1 957.5,834.1 963.7,836.4 969.8,834.1 976.0,833.3 983.8,834.1 989.9,833.6 996.1,835.1 1002.3,831.7 1008.5,834.1 1014.7,834.8 1019.0,834.8 1023.6,834.1 1028.3,836.1 1034.5,837.9 1042.2,837.1 1046.8,836.4 1053.0,837.1 1057.6,835.1 1065.4,839.2 1071.6,838.7 1077.7,837.1 1083.9,835.6 1088.6,836.4 1093.2,841.0 1102.5,840.2 1111.7,841.8 1121.0,841.8 1127.2,841.3 1134.9,842.6 1141.1,844.9 1147.3,846.4 1155.0,846.9 1161.2,848.0 1167.4,849.5 1173.6,850.3 1179.8,850.6 1185.9,852.1 1192.1,851.8 1198.3,851.1 1204.5,850.6 1210.7,849.5 1213.8,846.9 1219.9,847.2 1226.1,844.9 1232.3,842.6 1238.5,840.2 1243.1,839.8 1246.2,837.1 1249.0,835.2 1253.6,834.1 1258.3,830.5 1264.5,828.6 1270.6,822.8 1276.8,817.5 1283.0,815.0 1289.2,810.9 1293.8,807.8 1298.5,805.1 1303.1,804.7 1307.7,806.7 1313.9,806.7 1318.6,804.7 1324.7,806.7 1329.4,803.6 1335.6,803.1 1338.7,806.2 1343.3,804.7 1349.5,807.3 1355.7,806.2 1360.3,809.3 1366.5,812.4 1372.7,814.7 1378.8,819.1 1381.9,822.5 1386.6,819.7 1391.2,821.2 1397.4,823.2 1403.6,821.2 1408.2,822.2 1412.8,823.7 1416.7,820.1 1420.6,825.9 1426.8,824.8 1432.9,828.3 1439.1,830.5 1445.3,833.3 1451.5,835.6 1457.7,838.7 1465.4,839.2 1473.1,839.8" fill="none" stroke="#62b3c1" stroke-width="4" stroke-linejoin="round" stroke-linecap="butt"/><polyline points="99.5,842.9 105.2,843.3 111.4,842.6 117.5,842.9 122.2,841.0 128.4,840.2 133.0,842.6 139.2,843.3 145.4,843.3 151.6,842.2 156.2,839.8 160.8,839.8 163.9,842.2 170.1,838.7 176.3,839.5 182.5,840.7 188.7,840.7 191.7,843.3 197.9,844.1 202.6,844.4 207.2,842.9 213.4,843.8 219.6,842.6 227.3,842.9 233.5,842.6 238.1,841.0 244.3,842.2 252.0,841.3 259.8,842.6 262.8,844.4 269.0,842.9 275.2,843.3 281.4,843.3 287.6,841.3 293.8,840.2 299.9,841.8 306.1,843.8 312.3,844.1 318.5,842.9 323.1,841.0 329.0,842.2 335.2,840.7 342.9,841.3 349.1,843.3 355.3,842.2 363.0,843.8 370.7,844.1 378.5,846.4 384.6,846.0 390.8,846.4 397.0,845.3 403.2,846.0 409.4,845.6 415.6,846.0 421.7,846.4 427.9,848.4 434.1,848.0 440.3,847.5 449.6,847.5 457.3,849.5 465.0,848.4 471.2,848.4 477.4,846.0 483.6,846.0 491.3,847.5 499.0,848.4 506.8,848.4 514.5,846.9 520.7,845.3 526.8,845.6 533.0,844.4 539.2,842.6 545.4,841.0 551.6,839.8 559.0,838.1 563.6,836.1 571.4,838.2 577.5,836.7 583.7,835.6 589.9,834.1 596.1,835.1 602.3,834.8 610.0,834.8 617.7,832.5 623.9,834.8 630.1,836.4 634.7,839.2 642.5,837.9 648.7,838.2 651.7,837.1 657.9,840.2 664.1,841.8 670.3,840.2 676.5,841.8 682.7,841.3 688.8,839.8 695.0,840.2 701.2,841.0 707.4,842.9 713.6,841.0 721.3,839.2 727.5,841.0 733.7,837.6 739.8,836.7 746.0,837.1 752.2,837.9 758.4,836.7 764.6,839.8 772.3,839.2 778.5,837.9 784.7,838.2 789.0,840.2 795.2,837.1 801.4,838.7 809.1,840.2 816.8,837.9 823.0,840.2 830.7,841.8 838.5,841.0 847.7,840.2 857.0,840.2 864.7,836.7 870.9,840.2 878.7,839.8 887.9,839.8 894.1,839.8 898.7,836.7 903.4,836.4 908.0,836.7 912.7,838.7 918.8,839.2 925.0,839.5 931.2,840.7 937.4,841.0 945.1,839.8 951.3,839.5 954.4,841.8 962.1,842.9 969.8,843.8 977.6,845.3 983.8,843.8 989.9,848.7 996.1,849.5 1002.3,849.5 1008.5,849.0 1014.7,849.0 1019.0,848.6 1025.2,848.0 1031.4,848.7 1037.5,848.0 1043.7,848.4 1053.0,848.4 1059.2,848.0 1065.4,847.5 1071.6,847.5 1077.7,848.4 1085.5,847.5 1093.2,848.4 1102.5,849.0 1111.7,850.0 1119.5,849.5 1125.7,852.1 1133.4,852.6 1141.1,852.6 1147.3,850.6 1153.5,851.8 1161.2,852.1 1167.4,853.1 1173.6,852.1 1179.8,851.8 1185.9,851.1 1192.1,849.5 1196.8,847.5 1201.4,844.9 1207.6,843.3 1215.3,841.8 1219.9,840.7 1226.1,837.6 1232.3,834.8 1236.9,831.4 1241.6,830.5 1249.0,827.5 1255.2,826.8 1261.4,825.9 1267.5,823.2 1275.3,821.7 1281.5,823.2 1286.1,824.8 1290.7,823.2 1295.4,825.2 1298.5,822.8 1304.6,824.8 1310.8,825.9 1317.0,826.8 1323.2,829.4 1327.8,832.5 1334.0,831.4 1340.2,831.0 1346.4,830.5 1352.6,829.4 1358.7,832.5 1366.5,834.8 1374.2,834.1 1381.9,835.6 1388.1,839.2 1395.8,838.2 1402.0,839.8 1408.2,837.6 1415.9,837.6 1422.1,838.7 1428.3,842.6 1434.5,845.3 1440.7,846.4 1445.3,848.4 1453.0,848.7 1462.3,849.5 1468.5,850.3 1473.1,850.3" fill="none" stroke="#cd9b9b" stroke-width="4" stroke-linejoin="round" stroke-linecap="butt"/><line x1="1015.5" y1="858.0" x2="1015.5" y2="717.6" stroke="#000" stroke-width="1.5" stroke-dasharray="16 9.5"/><line x1="98.9" y1="858.1" x2="1474.0" y2="858.1" stroke="#000" stroke-width="1.3"/><line x1="99.5" y1="787.80" x2="113.5" y2="787.80" stroke="#222" stroke-width="1.3"/><path d="M360 0L360 655L302 655C290 612 274 584 248 566C220 547 172 537 95 533L95 472L270 472L270 0Z" transform="translate(76.88,724.90) scale(0.02180,-0.02267)"/><text x="58.70" y="795.10" font-size="21.8" transform="translate(0,795.10) scale(1,1.04) translate(0,-795.10)">0.5</text><text x="76.88" y="865.30" font-size="21.8" transform="translate(0,865.30) scale(1,1.04) translate(0,-865.30)">0</text><text transform="translate(33.1,110.2) rotate(-90)" font-size="23.3" text-anchor="middle">Blink rate [Hz]</text><rect x="87.28" y="875.31" width="11.40" height="1.70"/><path d="M360 0L360 655L302 655C290 612 274 584 248 566C220 547 172 537 95 533L95 472L270 472L270 0Z" transform="translate(99.00,882.40) scale(0.02180,-0.02267)"/><text x="537.29" y="882.40" font-size="21.8" transform="translate(0,882.40) scale(1,1.04) translate(0,-882.40)"> 0.5</text><rect x="537.39" y="875.31" width="11.40" height="1.70"/><text x="1009.44" y="882.40" font-size="21.8" transform="translate(0,882.40) scale(1,1.04) translate(0,-882.40)">0</text><text x="1458.35" y="882.40" font-size="21.8" transform="translate(0,882.40) scale(1,1.04) translate(0,-882.40)">0.5</text><text x="786.5" y="912.7" font-size="24" text-anchor="middle">Time [s]</text><line x1="1068.5" y1="51.8" x2="1128.6" y2="51.8" stroke="#cd9b9b" stroke-width="3.6"/><line x1="1068.5" y1="76.8" x2="1128.6" y2="76.8" stroke="#62b3c1" stroke-width="3.6"/><text x="1138.8" y="58.8" font-size="21.5">Predictable</text><text x="1138.8" y="83.8" font-size="21.5">Unpredictable</text><line x1="85" y1="1362.20" x2="99.5" y2="1362.20" stroke="#333" stroke-width="1.3"/><text x="61.34" y="1367.80" font-size="21.5" transform="translate(0,1367.80) scale(1,1.06) translate(0,-1367.80)">0</text><line x1="85" y1="1287.88" x2="99.5" y2="1287.88" stroke="#333" stroke-width="1.3"/><text x="43.41" y="1293.48" font-size="21.5" transform="translate(0,1293.48) scale(1,1.06) translate(0,-1293.48)">0.2</text><line x1="85" y1="1213.56" x2="99.5" y2="1213.56" stroke="#333" stroke-width="1.3"/><text x="43.41" y="1219.16" font-size="21.5" transform="translate(0,1219.16) scale(1,1.06) translate(0,-1219.16)">0.4</text><line x1="85" y1="1139.24" x2="99.5" y2="1139.24" stroke="#333" stroke-width="1.3"/><text x="43.41" y="1144.84" font-size="21.5" transform="translate(0,1144.84) scale(1,1.06) translate(0,-1144.84)">0.6</text><line x1="85" y1="1064.92" x2="99.5" y2="1064.92" stroke="#333" stroke-width="1.3"/><text x="43.41" y="1070.52" font-size="21.5" transform="translate(0,1070.52) scale(1,1.06) translate(0,-1070.52)">0.8</text><line x1="85" y1="990.60" x2="99.5" y2="990.60" stroke="#333" stroke-width="1.3"/><path d="M360 0L360 655L302 655C290 612 274 584 248 566C220 547 172 537 95 533L95 472L270 472L270 0Z" transform="translate(60.84,996.80) scale(0.02150,-0.02279)"/><line x1="99.5" y1="990.6" x2="99.5" y2="1362.2" stroke="#000" stroke-width="1.4"/><text transform="translate(16.7,1176) rotate(-90)" font-size="23.5" text-anchor="middle">Blink rate [Hz]</text><rect x="139.1" y="1347.1" width="64.90" height="15.10" fill="#cc9d9d"/><rect x="219.7" y="1301.4" width="64.10" height="60.80" fill="#67b4c2"/><rect x="420.1" y="1341.2" width="63.70" height="21.00" fill="#cc9d9d"/><rect x="500.3" y="1327.3" width="63.50" height="34.90" fill="#67b4c2"/><rect x="700.2" y="1333.1" width="64.20" height="29.10" fill="#cc9d9d"/><rect x="780.3" y="1329.6" width="64.20" height="32.60" fill="#67b4c2"/><rect x="980.8" y="1330.3" width="64.00" height="31.90" fill="#cc9d9d"/><rect x="1061.3" y="1318.7" width="63.80" height="43.50" fill="#67b4c2"/><rect x="1261.3" y="1313.2" width="64.00" height="49.00" fill="#cc9d9d"/><rect x="1341.1" y="1309.6" width="64.10" height="52.60" fill="#67b4c2"/><path d="M158.20000000000002,1337.2H180.6M169.4,1337.2V1356.3M158.20000000000002,1356.3H180.6" stroke="#5a5a5a" stroke-width="1.5" fill="none"/><path d="M242.5,1291.8H264.9M253.7,1291.8V1310.5M242.5,1310.5H264.9" stroke="#5a5a5a" stroke-width="1.5" fill="none"/><path d="M438.6,1336.1H461.0M449.8,1336.1V1346.3M438.6,1346.3H461.0" stroke="#5a5a5a" stroke-width="1.5" fill="none"/><path d="M523.0,1322.2H545.4000000000001M534.2,1322.2V1332.4M523.0,1332.4H545.4000000000001" stroke="#5a5a5a" stroke-width="1.5" fill="none"/><path d="M719.0999999999999,1327.5H741.5M730.3,1327.5V1339.2M719.0999999999999,1339.2H741.5" stroke="#5a5a5a" stroke-width="1.5" fill="none"/><path d="M803.0,1324.2H825.4000000000001M814.2,1324.2V1335.4M803.0,1335.4H825.4000000000001" stroke="#5a5a5a" stroke-width="1.5" fill="none"/><path d="M999.5,1323.6H1021.9000000000001M1010.7,1323.6V1337.3M999.5,1337.3H1021.9000000000001" stroke="#5a5a5a" stroke-width="1.5" fill="none"/><path d="M1083.6,1312.1H1106.0M1094.8,1312.1V1325.0M1083.6,1325.0H1106.0" stroke="#5a5a5a" stroke-width="1.5" fill="none"/><path d="M1280.3999999999999,1304.9H1302.8M1291.6,1304.9V1321.2M1280.3999999999999,1321.2H1302.8" stroke="#5a5a5a" stroke-width="1.5" fill="none"/><path d="M1364.2,1301.5H1386.6000000000001M1375.4,1301.5V1317.3M1364.2,1317.3H1386.6000000000001" stroke="#5a5a5a" stroke-width="1.5" fill="none"/><line x1="85" y1="1362.5" x2="1474" y2="1362.5" stroke="#000" stroke-width="1.1"/><circle cx="162.4" cy="1297.7" r="2.8"/><circle cx="162.4" cy="1319.5" r="2.8"/><circle cx="162.4" cy="1337.5" r="2.8"/><circle cx="162.4" cy="1341.5" r="2.8"/><circle cx="162.4" cy="1345.5" r="2.8"/><circle cx="162.4" cy="1353" r="2.8"/><circle cx="162.4" cy="1362.3" r="2.8"/><circle cx="176.4" cy="1302.1" r="2.8"/><circle cx="176.4" cy="1336.5" r="2.8"/><circle cx="176.4" cy="1341.5" r="2.8"/><circle cx="176.4" cy="1347.8" r="2.8"/><circle cx="176.4" cy="1362.3" r="2.8"/><circle cx="246.4" cy="1184" r="2.8"/><circle cx="246.4" cy="1212" r="2.8"/><circle cx="246.4" cy="1269.3" r="2.8"/><circle cx="246.4" cy="1309" r="2.8"/><circle cx="246.4" cy="1317.6" r="2.8"/><circle cx="246.4" cy="1329" r="2.8"/><circle cx="246.4" cy="1336.8" r="2.8"/><circle cx="246.4" cy="1345.2" r="2.8"/><circle cx="246.4" cy="1362.3" r="2.8"/><circle cx="260.7" cy="1192.1" r="2.8"/><circle cx="260.7" cy="1227.3" r="2.8"/><circle cx="260.7" cy="1301.4" r="2.8"/><circle cx="260.7" cy="1310" r="2.8"/><circle cx="260.7" cy="1314.7" r="2.8"/><circle cx="260.7" cy="1317.3" r="2.8"/><circle cx="260.7" cy="1335.6" r="2.8"/><circle cx="260.7" cy="1338.5" r="2.8"/><circle cx="260.7" cy="1354.4" r="2.8"/><circle cx="260.7" cy="1362.3" r="2.8"/><path d="M360 0L360 655L302 655C290 612 274 584 248 566C220 547 172 537 95 533L95 472L270 472L270 0Z" transform="translate(205.32,1390.80) scale(0.02150,-0.02257)"/><circle cx="442.9" cy="1200.5" r="2.8"/><circle cx="442.9" cy="1310.8" r="2.8"/><circle cx="442.9" cy="1344.7" r="2.8"/><circle cx="442.9" cy="1354.3" r="2.8"/><circle cx="442.9" cy="1362.3" r="2.8"/><circle cx="457.1" cy="1247.4" r="2.8"/><circle cx="457.1" cy="1328.9" r="2.8"/><circle cx="457.1" cy="1354.3" r="2.8"/><circle cx="457.1" cy="1362.3" r="2.8"/><circle cx="526.8" cy="1220.9" r="2.8"/><circle cx="526.8" cy="1264.5" r="2.8"/><circle cx="526.8" cy="1322.2" r="2.8"/><circle cx="526.8" cy="1326.8" r="2.8"/><circle cx="526.8" cy="1334.7" r="2.8"/><circle cx="526.8" cy="1341.2" r="2.8"/><circle cx="526.8" cy="1344.7" r="2.8"/><circle cx="526.8" cy="1362.3" r="2.8"/><circle cx="541.1" cy="1255.1" r="2.8"/><circle cx="541.1" cy="1284.1" r="2.8"/><circle cx="541.1" cy="1324.5" r="2.8"/><circle cx="541.1" cy="1333.5" r="2.8"/><circle cx="541.1" cy="1334.7" r="2.8"/><circle cx="541.1" cy="1342" r="2.8"/><circle cx="541.1" cy="1345.8" r="2.8"/><circle cx="541.1" cy="1362.3" r="2.8"/><text x="476.56" y="1390.80" font-size="21.5" transform="translate(0,1390.80) scale(1,1.05) translate(0,-1390.80)"> .5</text><path d="M360 0L360 655L302 655C290 612 274 584 248 566C220 547 172 537 95 533L95 472L270 472L270 0Z" transform="translate(476.56,1390.80) scale(0.02150,-0.02257)"/><circle cx="723.3" cy="1104.2" r="2.8"/><circle cx="723.3" cy="1314.7" r="2.8"/><circle cx="723.3" cy="1320.8" r="2.8"/><circle cx="723.3" cy="1344.8" r="2.8"/><circle cx="723.3" cy="1353.8" r="2.8"/><circle cx="723.3" cy="1362.3" r="2.8"/><circle cx="737.5" cy="1244" r="2.8"/><circle cx="737.5" cy="1316.1" r="2.8"/><circle cx="737.5" cy="1338.1" r="2.8"/><circle cx="737.5" cy="1352.7" r="2.8"/><circle cx="737.5" cy="1354.2" r="2.8"/><circle cx="737.5" cy="1362.3" r="2.8"/><circle cx="807.2" cy="1216.9" r="2.8"/><circle cx="807.2" cy="1277" r="2.8"/><circle cx="807.2" cy="1300.4" r="2.8"/><circle cx="807.2" cy="1320.1" r="2.8"/><circle cx="807.2" cy="1349.7" r="2.8"/><circle cx="807.2" cy="1352.7" r="2.8"/><circle cx="807.2" cy="1354.9" r="2.8"/><circle cx="807.2" cy="1362.3" r="2.8"/><circle cx="821.4" cy="1267.4" r="2.8"/><circle cx="821.4" cy="1281.5" r="2.8"/><circle cx="821.4" cy="1317.9" r="2.8"/><circle cx="821.4" cy="1341.4" r="2.8"/><circle cx="821.4" cy="1352.7" r="2.8"/><circle cx="821.4" cy="1354.9" r="2.8"/><circle cx="821.4" cy="1362.3" r="2.8"/><text x="766.22" y="1390.80" font-size="21.5" transform="translate(0,1390.80) scale(1,1.05) translate(0,-1390.80)">2</text><circle cx="1003.7" cy="1149.9" r="2.8"/><circle cx="1003.7" cy="1293.7" r="2.8"/><circle cx="1003.7" cy="1308.9" r="2.8"/><circle cx="1003.7" cy="1319.3" r="2.8"/><circle cx="1003.7" cy="1344.8" r="2.8"/><circle cx="1003.7" cy="1353.7" r="2.8"/><circle cx="1003.7" cy="1361.9" r="2.8"/><circle cx="1017.7" cy="1284.6" r="2.8"/><circle cx="1017.7" cy="1294.7" r="2.8"/><circle cx="1017.7" cy="1309.4" r="2.8"/><circle cx="1017.7" cy="1343.5" r="2.8"/><circle cx="1017.7" cy="1345.8" r="2.8"/><circle cx="1017.7" cy="1361.9" r="2.8"/><circle cx="1088" cy="1180.2" r="2.8"/><circle cx="1088" cy="1254.9" r="2.8"/><circle cx="1088" cy="1287.1" r="2.8"/><circle cx="1088" cy="1308.9" r="2.8"/><circle cx="1088" cy="1334.4" r="2.8"/><circle cx="1088" cy="1343.9" r="2.8"/><circle cx="1088" cy="1350.5" r="2.8"/><circle cx="1088" cy="1353.4" r="2.8"/><circle cx="1088" cy="1361.9" r="2.8"/><circle cx="1102" cy="1215.2" r="2.8"/><circle cx="1102" cy="1280.5" r="2.8"/><circle cx="1102" cy="1303.6" r="2.8"/><circle cx="1102" cy="1332" r="2.8"/><circle cx="1102" cy="1343" r="2.8"/><circle cx="1102" cy="1345.8" r="2.8"/><circle cx="1102" cy="1351.5" r="2.8"/><circle cx="1102" cy="1354.3" r="2.8"/><circle cx="1102" cy="1361.9" r="2.8"/><text x="1037.86" y="1390.80" font-size="21.5" transform="translate(0,1390.80) scale(1,1.05) translate(0,-1390.80)">2.5</text><circle cx="1284.3" cy="1050.2" r="2.8"/><circle cx="1284.3" cy="1271.4" r="2.8"/><circle cx="1284.3" cy="1287" r="2.8"/><circle cx="1284.3" cy="1326.2" r="2.8"/><circle cx="1284.3" cy="1339.1" r="2.8"/><circle cx="1284.3" cy="1346.6" r="2.8"/><circle cx="1284.3" cy="1352.9" r="2.8"/><circle cx="1284.3" cy="1354.2" r="2.8"/><circle cx="1284.3" cy="1362" r="2.8"/><circle cx="1298.4" cy="1174.5" r="2.8"/><circle cx="1298.4" cy="1273.8" r="2.8"/><circle cx="1298.4" cy="1317.9" r="2.8"/><circle cx="1298.4" cy="1327.7" r="2.8"/><circle cx="1298.4" cy="1341.7" r="2.8"/><circle cx="1298.4" cy="1353.4" r="2.8"/><circle cx="1298.4" cy="1362" r="2.8"/><circle cx="1368.4" cy="1197" r="2.8"/><circle cx="1368.4" cy="1244.7" r="2.8"/><circle cx="1368.4" cy="1270.4" r="2.8"/><circle cx="1368.4" cy="1315.3" r="2.8"/><circle cx="1368.4" cy="1326.9" r="2.8"/><circle cx="1368.4" cy="1339.9" r="2.8"/><circle cx="1368.4" cy="1345.9" r="2.8"/><circle cx="1368.4" cy="1351.6" r="2.8"/><circle cx="1368.4" cy="1354.2" r="2.8"/><circle cx="1382.4" cy="1211.8" r="2.8"/><circle cx="1382.4" cy="1256.9" r="2.8"/><circle cx="1382.4" cy="1272" r="2.8"/><circle cx="1382.4" cy="1315.3" r="2.8"/><circle cx="1382.4" cy="1322.5" r="2.8"/><circle cx="1382.4" cy="1336" r="2.8"/><circle cx="1382.4" cy="1345.1" r="2.8"/><circle cx="1382.4" cy="1351.6" r="2.8"/><circle cx="1382.4" cy="1354.2" r="2.8"/><circle cx="1382.4" cy="1362" r="2.8"/><text x="1327.32" y="1390.80" font-size="21.5" transform="translate(0,1390.80) scale(1,1.05) translate(0,-1390.80)">3</text><text x="786.5" y="1420.6" font-size="23.6" text-anchor="middle">Foreperiod [s]</text><rect x="142.2" y="997.8" width="60" height="17.9" fill="#cc9d9d"/><rect x="142.2" y="1023.1" width="60" height="18.1" fill="#67b4c2"/><text x="211.5" y="1015.4" font-size="21.5">Predictable</text><text x="211.5" y="1040.6" font-size="21.5">Unpredictable</text></svg></body></html>
